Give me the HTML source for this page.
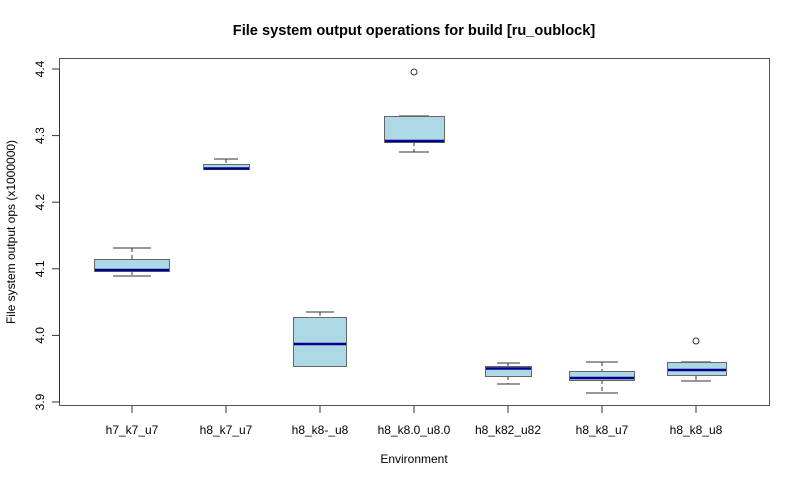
<!DOCTYPE html>
<html><head><meta charset="utf-8"><style>body{margin:0;background:#fff}svg{display:block}</style></head>
<body>
<svg width="800" height="480" xmlns="http://www.w3.org/2000/svg" font-family="Liberation Sans, sans-serif">
<rect width="800" height="480" fill="#fff"/>
<text x="414" y="35" text-anchor="middle" font-size="14.6" font-weight="bold">File system output operations for build [ru_oublock]</text>
<rect x="59.5" y="58.5" width="710" height="347" fill="none" stroke="#555" stroke-width="1"/>
<g stroke="#333" stroke-width="1">
<line x1="59.5" y1="69" x2="59.5" y2="402"/>
<line x1="52" y1="69" x2="59.5" y2="69"/><line x1="52" y1="135.6" x2="59.5" y2="135.6"/>
<line x1="52" y1="202.2" x2="59.5" y2="202.2"/><line x1="52" y1="268.8" x2="59.5" y2="268.8"/>
<line x1="52" y1="335.4" x2="59.5" y2="335.4"/><line x1="52" y1="402" x2="59.5" y2="402"/>
<line x1="132" y1="406" x2="132" y2="413"/><line x1="226" y1="406" x2="226" y2="413"/>
<line x1="320" y1="406" x2="320" y2="413"/><line x1="414" y1="406" x2="414" y2="413"/>
<line x1="508" y1="406" x2="508" y2="413"/><line x1="602" y1="406" x2="602" y2="413"/>
<line x1="696" y1="406" x2="696" y2="413"/>
</g>
<g font-size="12" fill="#000" text-anchor="middle">
<text transform="translate(44,69) rotate(-90)">4.4</text>
<text transform="translate(44,135.6) rotate(-90)">4.3</text>
<text transform="translate(44,202.2) rotate(-90)">4.2</text>
<text transform="translate(44,268.8) rotate(-90)">4.1</text>
<text transform="translate(44,335.4) rotate(-90)">4.0</text>
<text transform="translate(44,402) rotate(-90)">3.9</text>
<text transform="translate(15,232) rotate(-90)">File system output ops (x1000000)</text>
<text x="132" y="434">h7_k7_u7</text><text x="226" y="434">h8_k7_u7</text>
<text x="320" y="434">h8_k8-_u8</text><text x="414" y="434">h8_k8.0_u8.0</text>
<text x="508" y="434">h8_k82_u82</text><text x="602" y="434">h8_k8_u7</text>
<text x="696" y="434">h8_k8_u8</text>
<text x="414" y="463">Environment</text>
</g>
<g stroke="#333" stroke-width="1">
<line x1="132" y1="248" x2="132" y2="259" stroke-dasharray="4,3"/><line x1="113" y1="248" x2="151" y2="248"/>
<line x1="132" y1="271" x2="132" y2="276" stroke-dasharray="4,3"/><line x1="113" y1="276" x2="151" y2="276"/>
<rect x="94.5" y="259.5" width="75" height="12" fill="#add8e6" stroke="#666"/>
<line x1="95" y1="270" x2="169" y2="270" stroke="#00008b" stroke-width="2.5"/>
<line x1="226" y1="159" x2="226" y2="164" stroke-dasharray="4,3"/><line x1="214" y1="159" x2="238" y2="159"/>
<rect x="203.5" y="164.5" width="46" height="5" fill="#add8e6" stroke="#666"/>
<line x1="204" y1="168.5" x2="249" y2="168.5" stroke="#00008b" stroke-width="2.5"/>
<line x1="320" y1="312" x2="320" y2="317" stroke-dasharray="4,3"/><line x1="306" y1="312" x2="334" y2="312"/>
<line x1="306" y1="366" x2="334" y2="366"/>
<rect x="293.5" y="317.5" width="53" height="49" fill="#add8e6" stroke="#666"/>
<line x1="294" y1="344" x2="346" y2="344" stroke="#00008b" stroke-width="2.5"/>
<line x1="399" y1="116" x2="429" y2="116"/>
<line x1="414" y1="142" x2="414" y2="152" stroke-dasharray="4,3"/><line x1="399" y1="152" x2="429" y2="152"/>
<rect x="384.5" y="116.5" width="60" height="26" fill="#add8e6" stroke="#666"/>
<line x1="385" y1="141" x2="444" y2="141" stroke="#00008b" stroke-width="2.5"/>
<circle cx="414" cy="72" r="3" fill="none"/>
<line x1="508" y1="363" x2="508" y2="366" stroke-dasharray="4,3"/><line x1="497" y1="363" x2="520" y2="363"/>
<line x1="508" y1="376" x2="508" y2="384" stroke-dasharray="4,3"/><line x1="497" y1="384" x2="520" y2="384"/>
<rect x="485.5" y="366.5" width="46" height="10" fill="#add8e6" stroke="#666"/>
<line x1="486" y1="368.5" x2="531" y2="368.5" stroke="#00008b" stroke-width="2.5"/>
<line x1="602" y1="362" x2="602" y2="371" stroke-dasharray="4,3"/><line x1="586" y1="362" x2="618" y2="362"/>
<line x1="602" y1="380" x2="602" y2="393" stroke-dasharray="4,3"/><line x1="586" y1="393" x2="618" y2="393"/>
<rect x="569.5" y="371.5" width="65" height="9" fill="#add8e6" stroke="#666"/>
<line x1="570" y1="378" x2="634" y2="378" stroke="#00008b" stroke-width="2.5"/>
<line x1="681" y1="362" x2="711" y2="362"/>
<line x1="696" y1="376" x2="696" y2="381" stroke-dasharray="4,3"/><line x1="681" y1="381" x2="711" y2="381"/>
<rect x="667.5" y="362.5" width="59" height="13" fill="#add8e6" stroke="#666"/>
<line x1="668" y1="370" x2="726" y2="370" stroke="#00008b" stroke-width="2.5"/>
<circle cx="696" cy="341" r="3" fill="none"/>
</g>
</svg>
</body></html>
